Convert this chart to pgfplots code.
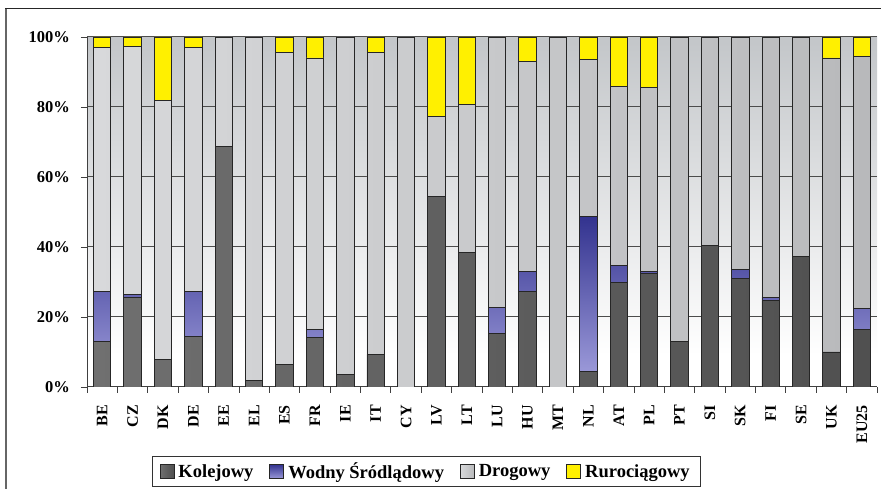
\documentclass[border=0pt]{standalone}
\usepackage{fontspec}
\setmainfont{Liberation Serif}
\usepackage{pgfplots}
\usepackage{pgfplotstable}
\pgfplotsset{compat=1.18}
\definecolor{kol}{HTML}{5E5E5E}
\definecolor{kolL}{HTML}{707070}
\definecolor{kolR}{HTML}{505050}
\definecolor{wodT}{HTML}{33338F}
\definecolor{wodB}{HTML}{9A98D8}
\definecolor{droL}{HTML}{D8D9DB}
\definecolor{droR}{HTML}{B8B9BB}
\definecolor{rur}{HTML}{FFF000}
\definecolor{bgtop}{HTML}{C3C6C9}
\pgfdeclareverticalshading{bgshade}{100bp}{color(0bp)=(white); color(25bp)=(white); color(29.5bp)=(white); color(75bp)=(bgtop); color(100bp)=(bgtop)}
\pgfplotstableread{
x cat K W D R
0 BE 13.1 14.2 69.6 3.1
1 CZ 25.5 1.0 70.8 2.7
2 DK 7.8 0 74.1 18.1
3 DE 14.5 12.8 69.8 2.9
4 EE 68.7 0 31.3 0
5 EL 1.8 0 98.2 0
6 ES 6.3 0 89.2 4.5
7 FR 14.2 2.3 77.5 6.0
8 IE 3.7 0 96.3 0
9 IT 9.3 0 86.2 4.5
10 CY 0 0 100 0
11 LV 54.4 0 22.9 22.7
12 LT 38.4 0 42.3 19.3
13 LU 15.3 7.4 77.3 0
14 HU 27.3 5.8 59.9 7.0
15 MT 0 0 100 0
16 NL 4.4 44.2 45.0 6.4
17 AT 29.8 5.0 51.0 14.2
18 PL 32.4 0.7 52.4 14.5
19 PT 13.1 0 86.9 0
20 SI 40.4 0 59.6 0
21 SK 30.9 2.7 66.4 0
22 FI 24.6 1.1 74.3 0
23 SE 37.4 0 62.6 0
24 UK 10.0 0 84.0 6.0
25 EU25 16.4 5.9 72.2 5.5
}\datatable
\begin{document}
\begin{tikzpicture}[x=1pt,y=1pt]
\useasboundingbox (0,0) rectangle (881,489);
\fill[white] (0,0) rectangle (881,489);
\draw[line width=2.5pt, gray!80!black] (6,0) -- (6,480);
\draw[line width=1pt, black!85] (5,480) -- (881,480);
\begin{axis}[
  at={(87pt,102pt)}, anchor=south west,
  scale only axis, width=790pt, height=350pt,
  ybar stacked, bar width=17.4pt,
  xmin=-0.5, xmax=25.5, ymin=0, ymax=100,
  axis background/.style={shading=bgshade},
  axis x line*=bottom, axis y line*=left,
  axis line style={black!75, line width=1pt},
  xtick={0,...,25},
  xticklabels from table={\datatable}{cat},
  major x tick style={draw=none},
  minor xtick={-0.5,0.5,...,25.5},
  minor x tick style={black!75, line width=0.8pt},
  minor tick length=6pt,
  xtick align=outside,
  xticklabel style={rotate=90, anchor=east, font=\fontsize{16}{18}\selectfont\bfseries, inner sep=0pt},
  xticklabel shift=12pt,
  ytick={0,20,40,60,80,100},
  yticklabels={0\%,20\%,40\%,60\%,80\%,100\%},
  ytick align=outside, major tick length=6pt,
  major y tick style={black!75, line width=0.8pt},
  yticklabel style={font=\fontsize{16.5}{18}\selectfont\bfseries, inner sep=0pt},
  yticklabel shift=11pt,
  ymajorgrids, major grid style={black!70, line width=1pt},
  every axis plot/.append style={draw=black!85, line width=0.9pt},
  legend columns=4,
  legend style={at={(0.430,-0.2414)}, anchor=center, draw=black!80, line width=0.8pt,
    font=\fontsize{18.5}{20}\selectfont\bfseries, inner xsep=7pt, inner ysep=4.5pt,
    /tikz/every even column/.append style={column sep=12pt},
    nodes={inner xsep=4pt}},
  legend image code/.code={\draw[#1, line width=0.8pt] (0pt,-7pt) rectangle (14pt,7pt);},
]
\addplot[left color=kolL, right color=kolR, middle color=kol] table[x=x, y=K]{\datatable};
\addplot[top color=wodT, bottom color=wodB] table[x=x, y=W]{\datatable};
\addplot[left color=droL, right color=droR] table[x=x, y=D]{\datatable};
\addplot[fill=rur] table[x=x, y=R]{\datatable};
\legend{Kolejowy, Wodny Śródlądowy, Drogowy, Rurociągowy}
\end{axis}
\end{tikzpicture}
\end{document}
